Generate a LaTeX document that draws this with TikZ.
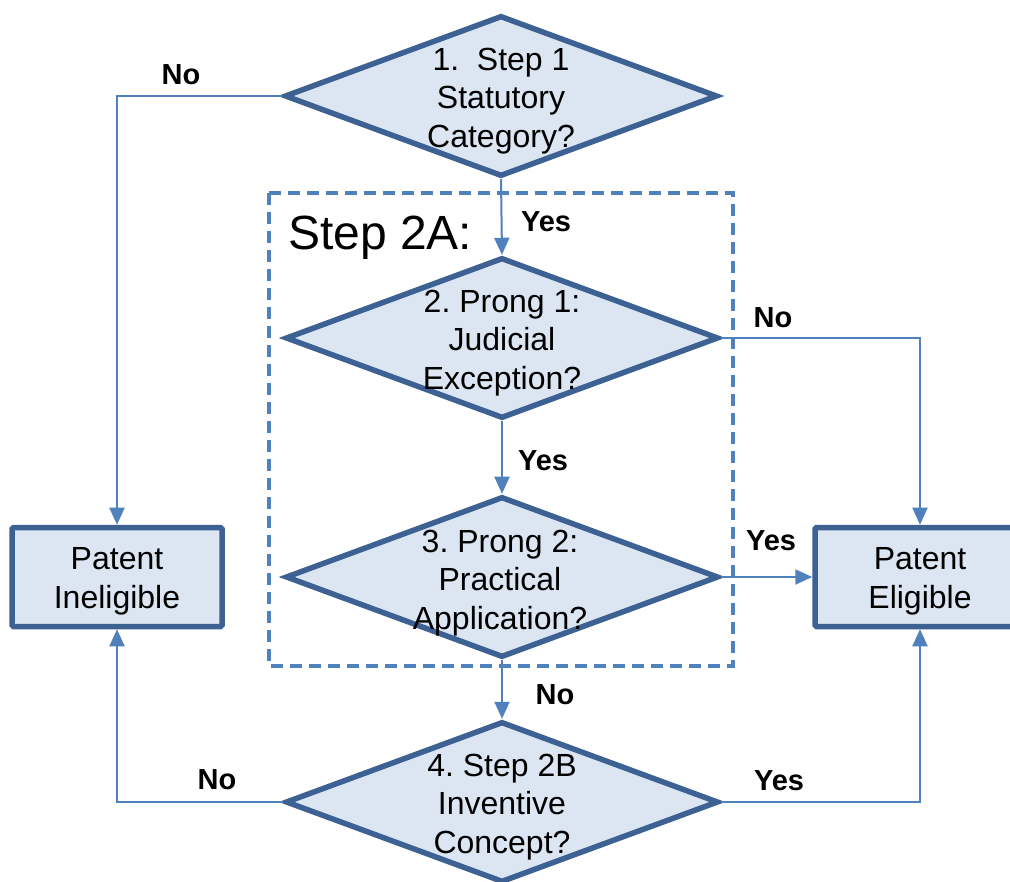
\documentclass[tikz,border=0pt]{standalone}
\usepackage{fontspec}
\setmainfont{Liberation Sans}
\usetikzlibrary{shapes.geometric,arrows.meta}
\definecolor{shapeline}{HTML}{3C6192}
\definecolor{shapefill}{HTML}{DCE6F2}
\definecolor{linkblue}{HTML}{4F81BD}
\tikzset{
  decision/.style={diamond, draw=shapeline, fill=shapefill, line width=5.5pt,
    minimum width=433pt, minimum height=161pt, inner sep=0pt, line join=miter},
  decisiontext/.style={align=center, font=\fontsize{32}{38.5}\selectfont, inner sep=0pt},
  outcome/.style={rectangle, draw=shapeline, fill=shapefill, line width=5.5pt,
    minimum width=210pt, minimum height=99pt, inner sep=0pt, rounded corners=1.5pt},
  outcometext/.style={align=center, font=\fontsize{32}{39}\selectfont, inner sep=0pt},
  link/.style={draw=linkblue, line width=2pt,
    -{Triangle[length=17pt,width=15pt]}},
  answer/.style={font=\fontsize{29}{30}\selectfont\bfseries, inner sep=0pt},
  stepframe/.style={draw=linkblue, line width=4pt, dash pattern=on 12pt off 7pt}
}
\begin{document}
\frenchspacing
\begin{tikzpicture}[x=1pt, y=-1pt]
\useasboundingbox (0,0) rectangle (1010,882);

% Step 2A frame
\draw[stepframe] (269,193) rectangle (733,666);
\node[anchor=base west, font=\fontsize{48}{50}\selectfont, inner sep=0pt] (step2a) at (288,250) {Step 2A:};

% decisions
\node[decision] (d1) at (501,96) {};
\node[decisiontext] (t1) at (501,101) {1.\ \ Step 1\\Statutory\\Category?};
\node[decision] (d2) at (502,338) {};
\node[decisiontext] (t2) at (502,343) {2. Prong 1:\\Judicial\\Exception?};
\node[decision] (d3) at (502,577) {};
\node[decisiontext] (t3) at (500,583) {3. Prong 2:\\Practical\\Application?};
\node[decision] (d4) at (502,802) {};
\node[decisiontext] (t4) at (502,807) {4. Step 2B\\Inventive\\Concept?};

% outcomes
\node[outcome] (inel) at (117,577) {};
\node[outcometext] (inelt) at (117,581) {Patent\\Ineligible};
\node[outcome] (elig) at (920,577) {};
\node[outcometext] (eligt) at (920,581) {Patent\\Eligible};

% connectors
\draw[link] (d1.west) -- (117,96) -- (inel.north);
\draw[link] (d1.south) -- (d2.north);
\draw[link] (d2.east) -- (920,338) -- (elig.north);
\draw[link] (d2.south) -- (d3.north);
\draw[link] (d3.east) -- (elig.west);
\draw[link] (d3.south) -- (d4.north);
\draw[link] (d4.west) -- (117,802) -- (inel.south);
\draw[link] (d4.east) -- (920,802) -- (elig.south);

% answers
\node[answer] (a1) at (181,75) {No};
\node[answer] (a2) at (546,222) {Yes};
\node[answer] (a3) at (773,318) {No};
\node[answer] (a4) at (543,461) {Yes};
\node[answer] (a5) at (771,541) {Yes};
\node[answer] (a6) at (555,695) {No};
\node[answer] (a7) at (217,780) {No};
\node[answer] (a8) at (779,781) {Yes};
\end{tikzpicture}
\end{document}
